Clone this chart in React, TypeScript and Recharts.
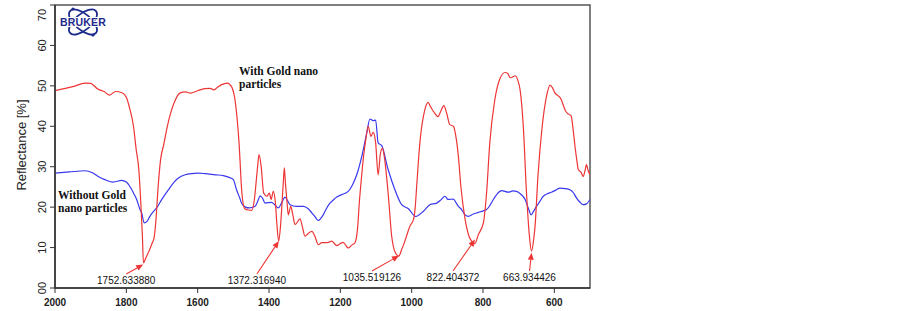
import React from 'react';
import { LineChart, Line, XAxis, YAxis, ReferenceArea, ReferenceDot } from 'recharts';

// wavenumber [cm-1], reflectance [%]
const withGold: [number, number][] = [
  [2000, 48.8], [1950, 49.8], [1915, 50.7], [1900, 50.6], [1880, 49.2], [1862, 48.6],
  [1848, 47.7], [1830, 48.6], [1812, 48.3], [1800, 47.2], [1792, 44.9], [1780, 40.0],
  [1772, 34.0], [1765, 29.3], [1760, 22.0], [1755, 13.0], [1752, 6.2], [1745, 7.5],
  [1737, 9.0], [1728, 11.0], [1722, 12.5], [1716, 18.0], [1712, 23.6], [1704, 31.7],
  [1695, 35.5], [1685, 40.0], [1675, 43.5], [1666, 45.8], [1650, 48.2], [1635, 48.5],
  [1620, 48.2], [1600, 48.8], [1580, 49.3], [1565, 49.4], [1555, 49.0], [1545, 49.6],
  [1533, 50.3], [1517, 50.7], [1505, 49.8], [1494, 45.7], [1484, 35.9], [1476, 23.5],
  [1468, 19.6], [1458, 19.3], [1448, 19.2], [1441, 21.9], [1432, 30.0], [1428, 33.0],
  [1422, 30.1], [1415, 23.5], [1406, 22.7], [1399, 23.5], [1394, 21.9], [1388, 23.9],
  [1382, 21.0], [1378, 16.0], [1373, 11.6], [1368, 15.0], [1364, 20.2], [1360, 26.0],
  [1357, 29.7], [1354, 26.0], [1350, 21.9], [1346, 18.1], [1339, 20.2], [1333, 18.0],
  [1327, 15.7], [1313, 17.1], [1306, 15.0], [1299, 12.8], [1290, 13.5], [1280, 14.0],
  [1270, 12.5], [1262, 10.7], [1252, 11.2], [1243, 11.2], [1233, 11.3], [1224, 11.6],
  [1217, 11.0], [1210, 10.5], [1200, 11.0], [1192, 11.3], [1185, 10.6], [1178, 9.9],
  [1168, 10.6], [1159, 11.2], [1152, 14.5], [1146, 22.0], [1140, 28.0], [1136, 31.7],
  [1129, 36.5], [1122, 40.0], [1114, 37.5], [1108, 38.5], [1101, 35.9], [1094, 28.0],
  [1088, 33.0], [1082, 34.6], [1076, 32.0], [1066, 23.5], [1056, 12.8], [1045, 8.6],
  [1036, 7.9], [1028, 9.5], [1019, 11.6], [1005, 15.3], [995, 16.9], [990, 20.0],
  [986, 25.1], [977, 35.9], [963, 44.1], [954, 45.9], [948, 45.0], [942, 44.1],
  [935, 43.2], [926, 42.4], [918, 43.8], [910, 45.1], [902, 43.3], [893, 40.4],
  [883, 40.0], [877, 38.0], [869, 32.5], [862, 25.1], [850, 16.9], [840, 13.0],
  [832, 11.6], [823, 11.0], [813, 13.2], [799, 16.1], [790, 23.5], [781, 35.9],
  [767, 46.5], [752, 51.9], [738, 53.3], [730, 53.0], [724, 52.0], [717, 52.2],
  [710, 52.5], [702, 51.3], [696, 49.0], [687, 40.0], [678, 23.5], [670, 13.0],
  [664, 9.1], [658, 12.0], [654, 15.3], [646, 27.6], [634, 40.0], [622, 47.4],
  [612, 50.2], [605, 49.5], [598, 48.2], [590, 47.6], [581, 46.7], [574, 45.0],
  [568, 43.7], [560, 43.0], [553, 42.6], [547, 39.0], [542, 35.0], [536, 31.0],
  [533, 29.3], [525, 28.6], [519, 27.6], [514, 29.0], [510, 30.5], [505, 29.0],
  [500, 28.0],
];

const withoutGold: [number, number][] = [
  [2000, 28.4], [1960, 28.7], [1916, 29.0], [1895, 28.5], [1879, 27.6], [1860, 26.8],
  [1837, 26.2], [1813, 26.6], [1800, 26.2], [1790, 25.1], [1780, 23.5], [1771, 21.9],
  [1762, 19.5], [1757, 18.6], [1750, 16.1], [1742, 16.5], [1734, 17.7], [1725, 18.8],
  [1715, 19.8], [1700, 22.0], [1682, 24.3], [1666, 26.2], [1654, 27.2], [1635, 28.0],
  [1617, 28.3], [1600, 28.4], [1580, 28.3], [1550, 28.0], [1528, 27.8], [1510, 27.3],
  [1500, 26.8], [1491, 24.3], [1481, 22.0], [1477, 21.0], [1466, 20.0], [1455, 19.8],
  [1439, 20.2], [1430, 21.8], [1425, 22.8], [1418, 22.2], [1411, 21.0], [1393, 21.2],
  [1384, 20.6], [1374, 19.8], [1365, 21.0], [1355, 22.5], [1348, 21.6], [1341, 20.6],
  [1322, 20.2], [1303, 20.2], [1290, 19.6], [1280, 18.6], [1270, 17.5], [1262, 16.7],
  [1255, 17.2], [1248, 18.1], [1238, 19.8], [1229, 21.0], [1224, 21.4], [1210, 22.5],
  [1196, 23.1], [1178, 23.9], [1166, 25.5], [1154, 28.0], [1140, 32.5], [1126, 38.3],
  [1117, 41.8], [1108, 41.4], [1101, 41.5], [1094, 35.9], [1084, 35.2], [1066, 29.3],
  [1047, 24.3], [1028, 20.6], [1009, 19.6], [989, 17.7], [967, 19.0], [949, 20.6],
  [930, 21.0], [918, 21.8], [907, 22.7], [898, 21.9], [883, 22.0], [875, 21.0],
  [869, 20.2], [860, 19.4], [850, 18.1], [841, 17.7], [827, 18.3], [813, 18.7],
  [790, 19.4], [780, 20.5], [771, 21.9], [760, 23.3], [748, 24.1], [729, 23.7],
  [716, 24.0], [706, 23.9], [694, 23.2], [682, 21.9], [672, 19.5], [665, 18.1],
  [658, 19.0], [650, 20.2], [640, 21.5], [631, 22.7], [620, 23.3], [608, 23.7],
  [596, 24.2], [584, 24.7], [570, 24.6], [556, 24.3], [546, 23.5], [538, 22.3],
  [528, 21.2], [519, 20.6], [510, 20.8], [500, 21.9],
];

const peakWave = [1752.63388, 1372.31694, 1035.519126, 822.404372, 663.934426];
const peakLabel = ['1752.633880', '1372.316940', '1035.519126', '822.404372', '663.934426'];
const peakTip = [5.8, 11.6, 8.0, 12.0, 8.7];

const xTicks = [600, 800, 1000, 1200, 1400, 1600, 1800, 2000];
const yTicks = [0, 10, 20, 30, 40, 50, 60, 70];

// label placement (pixels) relative to the arrow tip
const LABEL_DX = [-17, -22, -27, -22, -2];
const LABEL_Y = [280, 280, 277, 277, 277];

const RED = '#ee3535';
const BLUE = '#3838ee';
const NAVY = '#1c2a8c';
const SANS = '"Liberation Sans", Arial, sans-serif';
const SERIF = '"Liberation Serif", "Times New Roman", serif';

const toRows = (pts: [number, number][]) => pts.map(([w, v]) => ({ w, v }));

function YTick({ x, y, payload }: any) {
  const v = payload.value;
  const cx = x - 6;
  const cy = v === 70 ? y + 6 : y;
  return (
    <text x={cx} y={cy} transform={`rotate(-90 ${cx} ${cy})`} textAnchor="middle"
      dominantBaseline="central" fontSize={11} fill="#222" fontFamily={SANS}>
      {v === 0 ? '00' : String(v)}
    </text>
  );
}

function peakShape(i: number) {
  return (props: any) => {
    const { cx, cy } = props;
    const tx = cx + LABEL_DX[i];
    const ty = LABEL_Y[i];
    const x0 = tx, y0 = ty - 6;
    const dx = cx - x0, dy = cy - y0;
    const len = Math.sqrt(dx * dx + dy * dy) || 1;
    const ux = dx / len, uy = dy / len;
    const bx = cx - ux * 7, by = cy - uy * 7;
    const head = `${cx},${cy} ${bx - uy * 3},${by + ux * 3} ${bx + uy * 3},${by - ux * 3}`;
    return (
      <g>
        <line x1={x0} y1={y0} x2={bx} y2={by} stroke={RED} strokeWidth={1.1} />
        <polygon points={head} fill={RED} />
        <text x={tx} y={ty} textAnchor="middle" dominantBaseline="central"
          fontSize={10} fill="#111" fontFamily={SANS}>{peakLabel[i]}</text>
      </g>
    );
  };
}

export default function App() {
  return (
    <div style={{ position: 'absolute', left: 0, top: 0, width: 902, height: 311, background: '#fff' }}>
      <LineChart width={902} height={311} margin={{ top: 5, right: 312, bottom: 0, left: 0 }}>
        <XAxis dataKey="w" type="number" domain={[500, 2000]} reversed ticks={xTicks}
          allowDataOverflow height={23} tickSize={5} tickMargin={6}
          axisLine={{ stroke: '#333', strokeWidth: 1.5 }} tickLine={{ stroke: '#333' }}
          tick={{ fontSize: 10, fontWeight: 'bold', fill: '#222', fontFamily: SANS }} />
        <YAxis type="number" domain={[0, 70]} ticks={yTicks} width={55} tickSize={5}
          axisLine={{ stroke: '#333', strokeWidth: 1.5 }} tickLine={{ stroke: '#333' }}
          tick={<YTick />} />
        <ReferenceArea x1={500} x2={2000} y1={0} y2={70} fill="none" stroke="#555" strokeWidth={1.5} />
        <Line data={toRows(withoutGold)} dataKey="v" type="monotone" stroke={BLUE}
          strokeWidth={1.2} dot={false} isAnimationActive={false} />
        <Line data={toRows(withGold)} dataKey="v" type="monotone" stroke={RED}
          strokeWidth={1.2} dot={false} isAnimationActive={false} />
        {peakWave.map((w, i) => (
          <ReferenceDot key={peakLabel[i]} x={w} y={peakTip[i]} r={0} ifOverflow="visible"
            shape={peakShape(i)} />
        ))}
      </LineChart>
      <svg width={902} height={311} style={{ position: 'absolute', left: 0, top: 0, pointerEvents: 'none' }}>
        <text x={21} y={145} transform="rotate(-90 21 145)" textAnchor="middle" dominantBaseline="central"
          fontSize={13} fill="#222" fontFamily={SANS}>Reflectance [%]</text>
        <g fontFamily={SERIF} fontWeight="bold" fontSize={11.5} fill="#111">
          <text x={239} y={75}>With Gold nano</text>
          <text x={239} y={88}>particles</text>
          <text x={58} y={199}>Without Gold</text>
          <text x={58} y={212}>nano particles</text>
        </g>
        <g stroke={NAVY} strokeWidth={1.8} fill="none">
          <ellipse cx={83} cy={22} rx={17} ry={8} transform="rotate(40 83 22)" />
          <ellipse cx={83} cy={22} rx={17} ry={8} transform="rotate(-40 83 22)" />
        </g>
        <g fill={NAVY}>
          <circle cx={73} cy={9} r={1.6} />
          <circle cx={93} cy={35} r={1.6} />
        </g>
        <text x={83} y={26} textAnchor="middle" fontSize={10.5} fontWeight="bold" fill={NAVY}
          fontFamily={SANS} letterSpacing={0.2} stroke="#fff" strokeWidth={2} paintOrder="stroke">BRUKER</text>
      </svg>
    </div>
  );
}
